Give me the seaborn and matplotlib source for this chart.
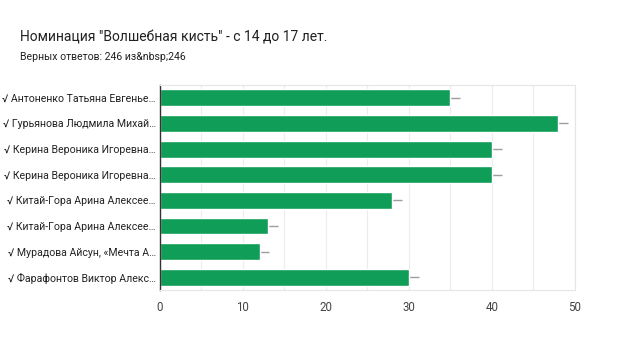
import matplotlib
matplotlib.use("Agg")
import matplotlib.pyplot as plt
import seaborn as sns
import pandas as pd
import numpy as np

labels = [
    "√ Антоненко Татьяна Евгенье…",
    "√ Гурьянова Людмила Михай…",
    "√ Керина Вероника Игоревна…",
    "√ Керина Вероника Игоревна…",
    "√ Китай-Гора Арина Алексее…",
    "√ Китай-Гора Арина Алексее…",
    "√ Мурадова Айсун, «Мечта А…",
    "√ Фарафонтов Виктор Алекс…",
]
values = [35, 48, 40, 40, 28, 13, 12, 30]
errors = [1.2, 1.2, 1.2, 1.2, 1.2, 1.2, 1.2, 1.2]
xticks = [0, 10, 20, 30, 40, 50]

sns.set_theme(style="white")
plt.rcParams['font.family'] = ['Roboto', 'DejaVu Sans']

df = pd.DataFrame({"id": [str(i) for i in range(len(labels))], "value": values})

fig = plt.figure(figsize=(6.4, 3.6), dpi=100)
ax = fig.add_axes([0.25, 0.194, 0.648, 0.570])

# error lines (behind bars)
ax.errorbar(values, np.arange(len(values)), xerr=[[0]*len(values), errors],
            fmt="none", ecolor="#9e9e9e", elinewidth=1.0, capsize=0, zorder=1)

sns.barplot(data=df, x="value", y="id", orient="h", color="#0f9d58",
            saturation=1, width=0.66, ax=ax, zorder=2)

ax.set_xlim(0, 50)
ax.set_ylim(7.5, -0.5)
ax.set_xticks(xticks)
ax.set_xticks(np.arange(5, 50, 10), minor=True)
ax.grid(axis="x", which="both", color="#ececec", linewidth=0.8, zorder=0)
ax.set_axisbelow(True)
ax.set_yticks(range(len(labels)))
ax.set_yticklabels(labels, fontsize=7.6, color="#222222")
ax.tick_params(axis="x", labelsize=8.3, labelcolor="#444444", length=0, pad=8)
ax.tick_params(axis="y", length=0, pad=3)
ax.set_xlabel("")
ax.set_ylabel("")
for s in ["top", "right", "bottom"]:
    ax.spines[s].set_color("#e6e6e6")
    ax.spines[s].set_linewidth(0.8)
ax.spines["left"].set_color("#333333")
ax.spines["left"].set_linewidth(1.0)

fig.text(20/640, 1-37/360, 'Номинация "Волшебная кисть" - с 14 до 17 лет.',
         fontsize=10, color="#212121", va="center", ha="left")
fig.text(20/640, 1-57/360, "Верных ответов: 246 из&nbsp;246",
         fontsize=7.6, color="#212121", va="center", ha="left")

fig.savefig("out.png", dpi=100, facecolor="white")
